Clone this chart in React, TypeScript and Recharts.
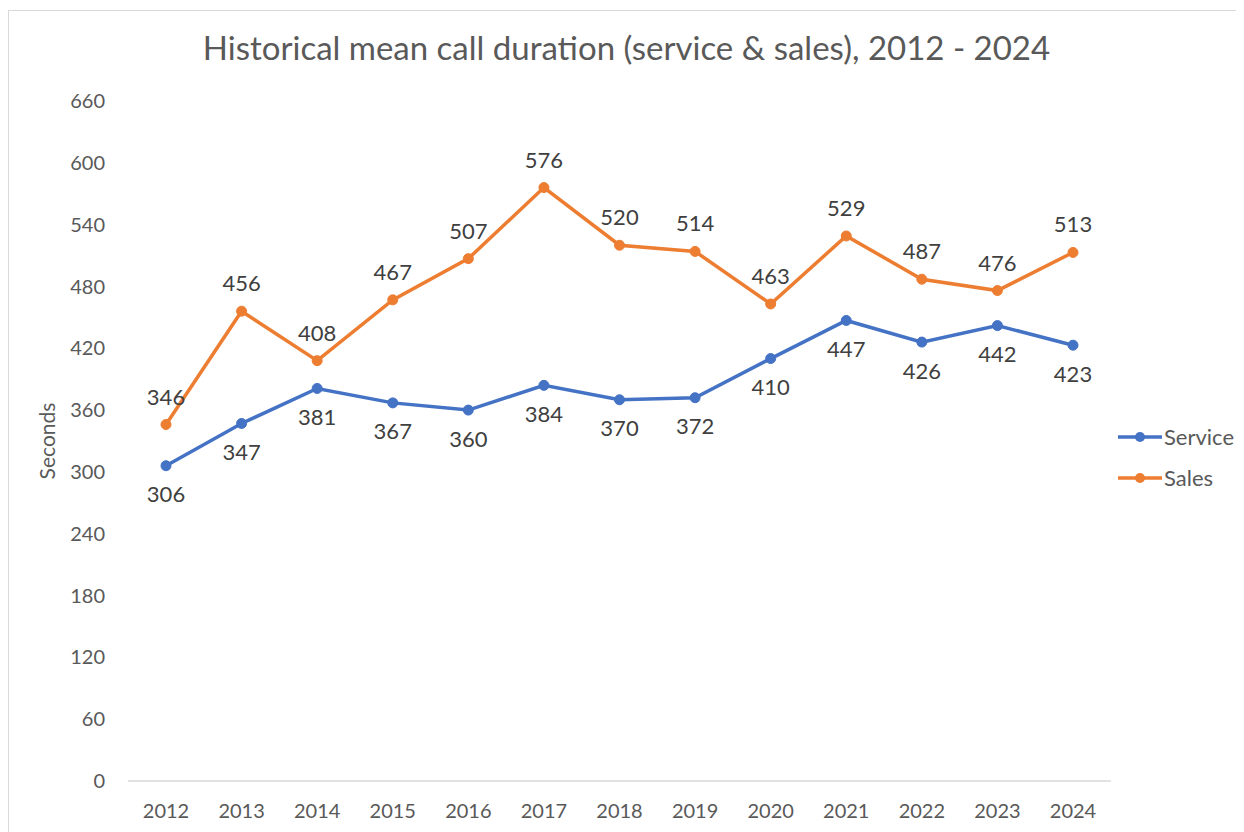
import React from 'react';
import {
  LineChart,
  Line,
  XAxis,
  YAxis,
  Legend,
  LabelList
} from 'recharts';

const years = ['2012', '2013', '2014', '2015', '2016', '2017', '2018', '2019', '2020', '2021', '2022', '2023', '2024'];
const serviceSeconds = [306, 347, 381, 367, 360, 384, 370, 372, 410, 447, 426, 442, 423];
const salesSeconds = [346, 456, 408, 467, 507, 576, 520, 514, 463, 529, 487, 476, 513];
const yTicks = [0, 60, 120, 180, 240, 300, 360, 420, 480, 540, 600, 660];
const seriesOrder = ['Service', 'Sales'];

const data = years.map((year, i) => ({
  year,
  service: serviceSeconds[i],
  sales: salesSeconds[i]
}));

const FONT = 'Lato, "Open Sans", sans-serif';
const BLUE = '#4472C4';
const ORANGE = '#ED7D31';

const LegendContent = ({ payload }: any) => {
  const items = [...(payload || [])].sort(
    (a: any, b: any) => seriesOrder.indexOf(a.value) - seriesOrder.indexOf(b.value)
  );
  return (
    <div style={{ fontFamily: FONT, fontSize: 22, color: '#595959' }}>
      {items.map((entry: any) => (
        <div key={entry.value} style={{ display: 'flex', alignItems: 'center', height: 41 }}>
          <svg width={44} height={12} style={{ marginRight: 2 }}>
            <line x1={0} y1={6} x2={44} y2={6} stroke={entry.color} strokeWidth={3.5} strokeLinecap="round" />
            <circle cx={22} cy={6} r={5} fill={entry.color} />
          </svg>
          <span>{entry.value}</span>
        </div>
      ))}
    </div>
  );
};

const App: React.FC = () => {
  return (
    <div
      style={{
        position: 'relative',
        marginTop: 2,
        width: 1236,
        height: 822,
        borderTop: '1px solid #d9d9d9',
        borderLeft: '1px solid #d9d9d9',
        background: '#fff',
        fontFamily: FONT
      }}
    >
      <style>{'body{overflow:hidden}'}</style>
      <div
        style={{
          position: 'absolute',
          top: 16,
          left: 0,
          width: 1235,
          textAlign: 'center',
          fontSize: 33,
          color: '#595959'
        }}
      >
        Historical mean call duration (service &amp; sales), 2012 - 2024
      </div>
      <LineChart
        width={1235}
        height={821}
        data={data}
        margin={{ top: 90, right: 133, bottom: 21, left: 20 }}
      >
        <XAxis
          dataKey="year"
          padding={{ left: 38, right: 38 }}
          axisLine={{ stroke: '#d9d9d9', strokeWidth: 1.5 }}
          tickLine={false}
          tickMargin={17}
          tick={{ fill: '#595959', fontSize: 20, fontFamily: FONT }}
        />
        <YAxis
          width={99}
          domain={[0, 660]}
          ticks={yTicks}
          interval={0}
          axisLine={false}
          tickLine={false}
          tickMargin={17}
          tick={{ fill: '#595959', fontSize: 20, fontFamily: FONT }}
          label={{
            value: 'Seconds',
            angle: -90,
            position: 'insideLeft',
            dx: 14,
            style: { fill: '#595959', fontSize: 21, fontFamily: FONT, textAnchor: 'middle' }
          }}
        />
        <Legend
          layout="vertical"
          align="center"
          verticalAlign="middle"
          content={<LegendContent />}
          wrapperStyle={{ left: 1109, top: 405, width: 130 }}
        />
        <Line
          type="linear"
          dataKey="service"
          name="Service"
          stroke={BLUE}
          strokeWidth={3.5}
          dot={{ r: 5, fill: BLUE, stroke: BLUE, strokeWidth: 1 }}
          activeDot={false}
          isAnimationActive={false}
        >
          <LabelList
            dataKey="service"
            position="bottom"
            offset={21}
            style={{ fill: '#404040', fontSize: 22, fontFamily: FONT }}
          />
        </Line>
        <Line
          type="linear"
          dataKey="sales"
          name="Sales"
          stroke={ORANGE}
          strokeWidth={3.5}
          dot={{ r: 5, fill: ORANGE, stroke: ORANGE, strokeWidth: 1 }}
          activeDot={false}
          isAnimationActive={false}
        >
          <LabelList
            dataKey="sales"
            position="top"
            offset={20}
            style={{ fill: '#404040', fontSize: 22, fontFamily: FONT }}
          />
        </Line>
      </LineChart>
    </div>
  );
};

export default App;
